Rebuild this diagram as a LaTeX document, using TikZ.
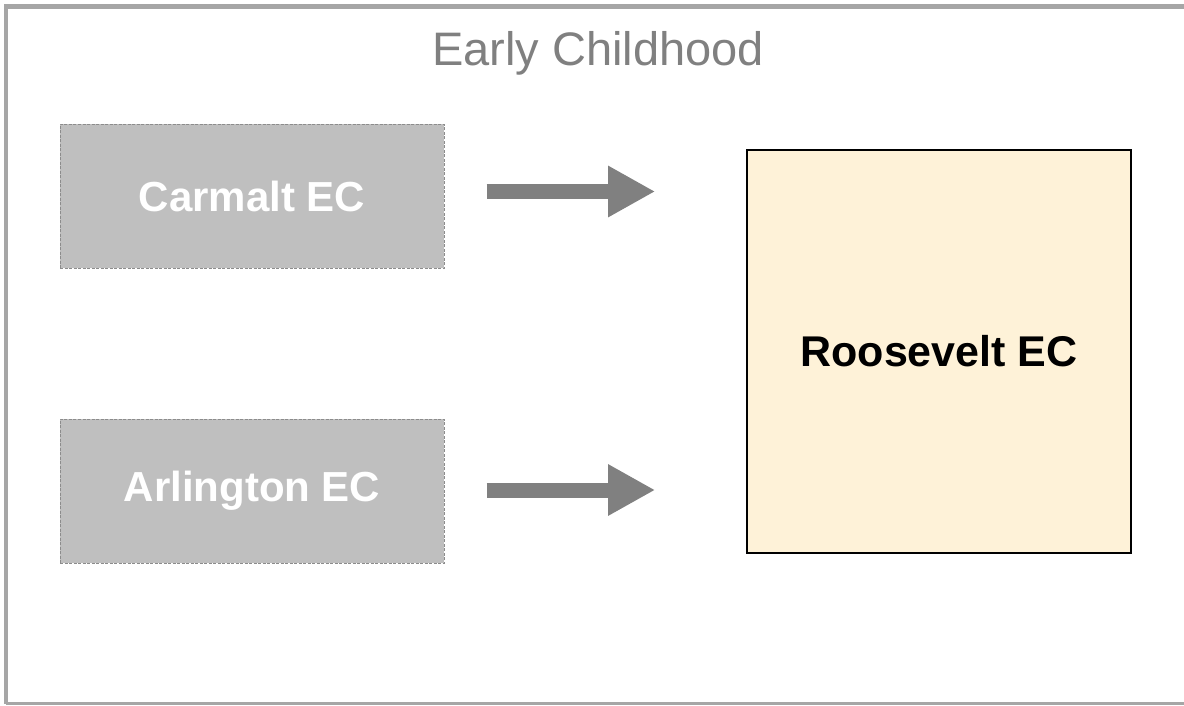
\documentclass[tikz,border=0pt]{standalone}
\usepackage{fontspec}
\setmainfont{Liberation Sans}
\usepackage{tikz}
\usetikzlibrary{positioning,arrows.meta,calc}
\usepackage{xcolor}
\definecolor{framegray}{HTML}{A6A6A6}
\definecolor{oldfill}{HTML}{BFBFBF}
\definecolor{olddash}{HTML}{8C8C8C}
\definecolor{arrowgray}{HTML}{808080}
\definecolor{newfill}{HTML}{FEF2D8}

\tikzset{
  oldsite/.style={draw=olddash, fill=oldfill, line width=1pt, dash pattern=on 3pt off 1.5pt,
    minimum width=384pt, minimum height=144pt, inner sep=0pt,
    text=white, font=\fontsize{42}{46}\selectfont\bfseries},
  newsite/.style={draw=black, fill=newfill, line width=1.6pt,
    minimum width=384pt, minimum height=403pt, inner sep=0pt,
    font=\fontsize{43}{47}\selectfont\bfseries},
  movearrow/.style={arrowgray, line width=15pt, -{Triangle[length=47pt, width=48pt]}}
}

\begin{document}
\begin{tikzpicture}[x=1pt, y=-1pt]
  \useasboundingbox (0,0) rectangle (1184,705);
  % outer frame, open on the right
  \draw[framegray, line width=4.5pt] (1184,6.5) -- (6,6.5) -- (6,703.5);
  \draw[framegray, line width=2.5pt] (6,703.5) -- (1184,703.5);
  % heading
  \node[text=arrowgray, font=\fontsize{47}{51}\selectfont, anchor=base] (title) at (598,65) {Early Childhood};
  % closing sites
  \node[oldsite] (carmalt) at (252,196) {Carmalt EC};
  \node[oldsite] (arlington) at (252,491) {Arlington EC};
  % receiving site
  \node[newsite] (roosevelt) at (939,351.5) {Roosevelt EC};
  % moves
  \draw[movearrow] ([shift={(42pt,4.5pt)}]carmalt.east) -- ([shift={(-91pt,4.5pt)}]carmalt.east -| roosevelt.west);
  \draw[movearrow] ([shift={(42pt,1pt)}]arlington.east) -- ([shift={(-91pt,1pt)}]arlington.east -| roosevelt.west);
\end{tikzpicture}
\end{document}
